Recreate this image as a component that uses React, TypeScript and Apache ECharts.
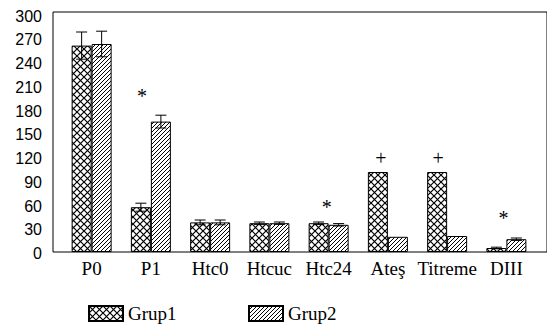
import React, { useEffect, useRef } from "react";
import * as echarts from "echarts";

const categories = ["P0", "P1", "Htc0", "Htcuc", "Htc24", "Ateş", "Titreme", "DIII"];
const grup1 = [258, 56, 37, 36, 36, 100, 100, 5];
const grup2 = [260, 163, 37, 36, 34, 19, 20, 16];
const err1 = [17, 5, 3, 1.5, 1.5, 0, 0, 1];
const err2 = [16, 8, 3, 1.5, 1.5, 0, 0, 1.5];
const yTicks = [0, 300, 30];
// annotations: [categoryIndex, yValue, symbol]
const markCats = [1, 4, 5, 6, 7];
const markVals = [195, 56, 117, 117, 42];
const markSyms = ["*", "*", "+", "+", "*"];
const markShift = [-9, -2, -7, -9, -3];

const BAR_W = 20;
const SERIF = "'Liberation Serif', 'Times New Roman', serif";
const SANS = "'Liberation Sans', Arial, sans-serif";

function crossTile(): HTMLCanvasElement {
  const c = document.createElement("canvas");
  c.width = 7;
  c.height = 7;
  const g = c.getContext("2d")!;
  g.fillStyle = "#fff";
  g.fillRect(0, 0, 7, 7);
  g.strokeStyle = "#000";
  g.lineWidth = 1.2;
  g.beginPath();
  g.moveTo(-1, -1);
  g.lineTo(8, 8);
  g.moveTo(8, -1);
  g.lineTo(-1, 8);
  g.stroke();
  return c;
}

function hatchTile(): HTMLCanvasElement {
  const c = document.createElement("canvas");
  c.width = 4;
  c.height = 4;
  const g = c.getContext("2d")!;
  g.fillStyle = "#fff";
  g.fillRect(0, 0, 4, 4);
  g.strokeStyle = "#000";
  g.lineWidth = 1;
  g.beginPath();
  g.moveTo(-1, 5);
  g.lineTo(5, -1);
  g.moveTo(-3, 3);
  g.lineTo(3, -3);
  g.moveTo(1, 7);
  g.lineTo(7, 1);
  g.stroke();
  return c;
}

export default function App() {
  const ref = useRef<HTMLDivElement>(null);
  useEffect(() => {
    if (!ref.current) return;
    const chart = echarts.init(ref.current, null, { renderer: "svg" });
    const p1 = { image: crossTile(), repeat: "repeat", imageWidth: 7, imageHeight: 7 } as any;
    const p2 = { image: hatchTile(), repeat: "repeat", imageWidth: 4, imageHeight: 4 } as any;

    const errSeries = (vals: number[], errs: number[], dx: number) => ({
      type: "custom",
      xAxisIndex: 1,
      yAxisIndex: 1,
      silent: true,
      z: 5,
      data: vals.map((v, i) => [i, v, errs[i]]),
      renderItem: (_p: any, api: any) => {
        const i = api.value(0);
        const v = api.value(1);
        const e = api.value(2);
        if (!e) return { type: "group", children: [] };
        const top = api.coord([i, v + e]);
        const bot = api.coord([i, v - e]);
        const x = top[0] + dx;
        const cap = 5.5;
        const style = { stroke: "#000", lineWidth: 1 };
        return {
          type: "group",
          children: [
            { type: "line", shape: { x1: x, y1: top[1], x2: x, y2: bot[1] }, style },
            { type: "line", shape: { x1: x - cap, y1: top[1], x2: x + cap, y2: top[1] }, style },
            { type: "line", shape: { x1: x - cap, y1: bot[1], x2: x + cap, y2: bot[1] }, style },
          ],
        };
      },
    });

    const legendCommon = {
      top: 299,
      icon: "rect",
      itemWidth: 34,
      itemHeight: 15,
      itemGap: 5,
      textStyle: { color: "#000", fontFamily: SERIF, fontSize: 19 },
      selectedMode: false,
    };

    chart.setOption({
      animation: false,
      backgroundColor: "#fff",
      grid: [
        { left: 53, top: 12, right: -5, bottom: 79, show: true, borderColor: "#000", borderWidth: 1, backgroundColor: "transparent" },
        { left: 62, top: 12, right: 11, bottom: 79 },
        { left: 53, top: 16, width: 10, bottom: 77.5 },
      ],
      xAxis: [
        { type: "value", gridIndex: 0, show: false, min: 0, max: 1 },
        {
          type: "category",
          gridIndex: 1,
          data: categories,
          axisLine: { show: false },
          axisTick: { show: false },
          axisLabel: { color: "#000", fontFamily: SERIF, fontSize: 19, margin: 7, interval: 0 },
        },
        { type: "value", gridIndex: 2, show: false, min: 0, max: 1 },
      ],
      yAxis: [
        { type: "value", gridIndex: 0, show: false, min: 0, max: 1 },
        { type: "value", gridIndex: 1, min: yTicks[0], max: yTicks[1], show: false },
        {
          type: "value",
          gridIndex: 2,
          min: yTicks[0],
          max: yTicks[1],
          interval: yTicks[2],
          axisLine: { show: false },
          axisTick: { show: false },
          splitLine: { show: false },
          axisLabel: { color: "#000", fontFamily: SANS, fontSize: 16, margin: 11 },
        },
      ],
      legend: [
        { ...legendCommon, data: ["Grup1"], left: 83 },
        { ...legendCommon, data: ["Grup2"], left: 243 },
      ],
      series: [
        {
          name: "Grup1",
          type: "bar",
          xAxisIndex: 1,
          yAxisIndex: 1,
          data: grup1,
          barWidth: BAR_W,
          barGap: "0%",
          itemStyle: { color: p1, borderColor: "#000", borderWidth: 1 },
        },
        {
          name: "Grup2",
          type: "bar",
          xAxisIndex: 1,
          yAxisIndex: 1,
          data: grup2,
          barWidth: BAR_W,
          barGap: "0%",
          itemStyle: { color: p2, borderColor: "#000", borderWidth: 1 },
        },
        errSeries(grup1, err1, -BAR_W / 2),
        errSeries(grup2, err2, BAR_W / 2),
        {
          type: "custom",
          xAxisIndex: 1,
          yAxisIndex: 1,
          silent: true,
          z: 6,
          data: markCats.map((c, k) => [c, markVals[k], k]),
          renderItem: (_p: any, api: any) => {
            const k = api.value(2);
            const pt = api.coord([api.value(0), api.value(1)]);
            return {
              type: "text",
              x: pt[0] + markShift[k],
              y: pt[1],
              style: {
                text: markSyms[k],
                fill: "#000",
                font: `20px ${SERIF}`,
                align: "center",
                verticalAlign: "middle",
              },
            };
          },
        },
      ],
    });
    return () => chart.dispose();
  }, []);
  return <div ref={ref} style={{ width: 547, height: 331, position: "absolute", left: 0, top: 0 }} />;
}
